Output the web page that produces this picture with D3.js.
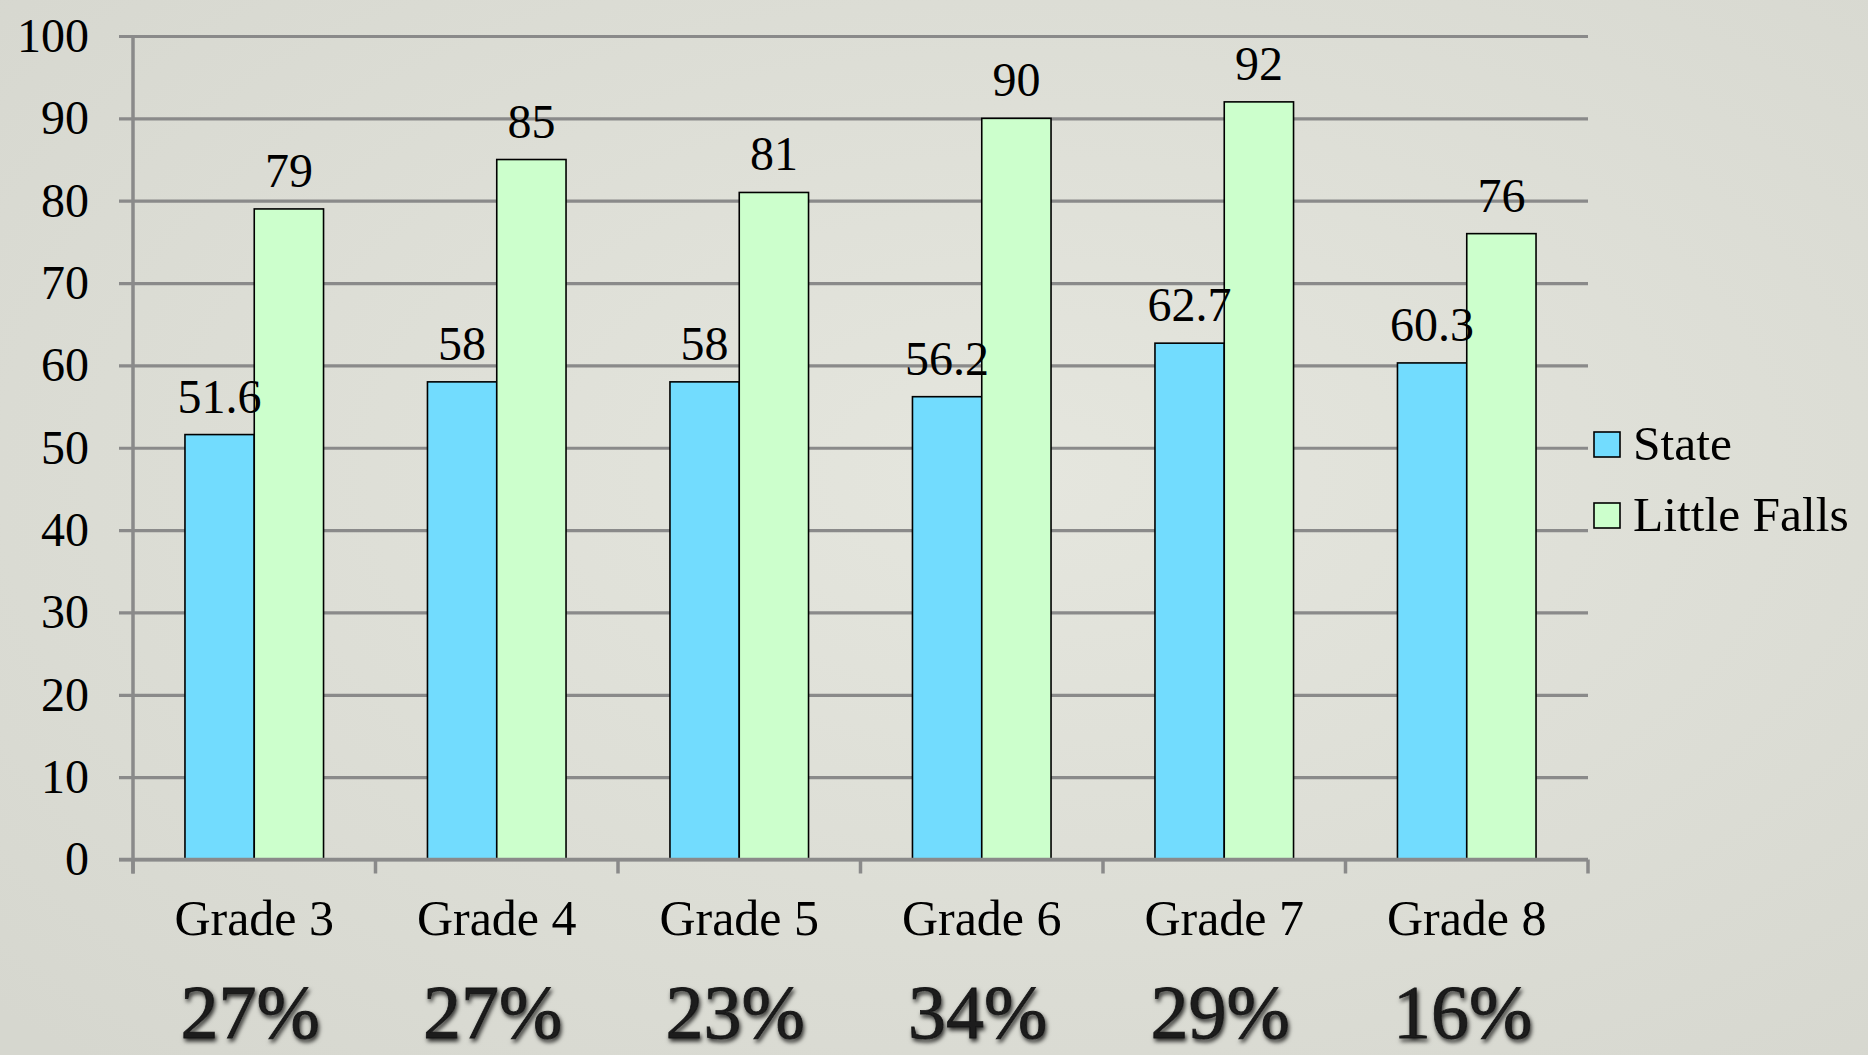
<!DOCTYPE html>
<html>
<head>
<meta charset="utf-8">
<script src="https://cdn.jsdelivr.net/npm/d3@7"></script>
<style>
  html, body { margin: 0; padding: 0; }
  body { width: 1868px; height: 1055px; overflow: hidden; }
  svg { display: block; }
</style>
</head>
<body>
<svg id="chart" width="1868" height="1055"></svg>
<script>
const categories = ["Grade 3", "Grade 4", "Grade 5", "Grade 6", "Grade 7", "Grade 8"];
const seriesNames = ["State", "Little Falls"];
const stateValues = [51.6, 58, 58, 56.2, 62.7, 60.3];
const littleFallsValues = [79, 85, 81, 90, 92, 76];
const stateLabels = ["51.6", "58", "58", "56.2", "62.7", "60.3"];
const littleFallsLabels = ["79", "85", "81", "90", "92", "76"];
const percentLabels = ["27%", "27%", "23%", "34%", "29%", "16%"];
const yTicks = [0, 10, 20, 30, 40, 50, 60, 70, 80, 90, 100];
const colors = ["#72dcfe", "#ccffcc"];

(function () {
const svg = d3.select("#chart");
const FONT = "'Liberation Serif', 'Times New Roman', serif";

const defs = svg.append("defs");
const bg = defs.append("radialGradient").attr("id", "bg").attr("cx", "55%").attr("cy", "45%").attr("r", "75%");
bg.append("stop").attr("offset", "0%").attr("stop-color", "#e5e6de");
bg.append("stop").attr("offset", "100%").attr("stop-color", "#d6d7cf");
const shadow = defs.append("filter").attr("id", "shadow").attr("x", "-20%").attr("y", "-20%").attr("width", "140%").attr("height", "140%");
shadow.append("feDropShadow").attr("dx", 1.5).attr("dy", 3).attr("stdDeviation", 2)
  .attr("flood-color", "#000").attr("flood-opacity", 0.8);

svg.append("rect").attr("width", 1868).attr("height", 1055).attr("fill", "url(#bg)");

const pLeft = 133, pRight = 1588, pTop = 36, pBottom = 859.5;
const x = d3.scaleBand().domain(categories).range([pLeft, pRight]).padding(0);
const xs = d3.scaleBand().domain(seriesNames).range([0, x.bandwidth()]).paddingInner(0).paddingOuter(0.75);
const y = d3.scaleLinear().domain([0, 100]).range([pBottom, pTop]);

const yAxis = d3.axisLeft(y).tickValues(yTicks).tickSize(-(pRight - 119)).tickPadding(30);
const gy = svg.append("g").attr("transform", `translate(119,0)`).call(yAxis);
gy.select(".domain").remove();
gy.selectAll(".tick line").attr("stroke", "#8a8a8a").attr("stroke-width", 3.2);
gy.selectAll(".tick text").attr("font-family", FONT).attr("font-size", 48).attr("fill", "#000");

svg.append("line").attr("x1", pLeft).attr("x2", pLeft).attr("y1", pTop - 1).attr("y2", pBottom + 14)
  .attr("stroke", "#8a8a8a").attr("stroke-width", 3.5);

const data = categories.map((c, i) => ({ c, vals: [stateValues[i], littleFallsValues[i]], labs: [stateLabels[i], littleFallsLabels[i]] }));
const groups = svg.append("g").selectAll("g").data(data).join("g")
  .attr("transform", d => `translate(${x(d.c)},0)`);
groups.selectAll("rect").data(d => d.vals.map((v, j) => ({ v, s: seriesNames[j], j })))
  .join("rect")
  .attr("x", d => xs(d.s)).attr("width", xs.bandwidth())
  .attr("y", d => y(d.v)).attr("height", d => y(0) - y(d.v))
  .attr("fill", d => colors[d.j]).attr("stroke", "#000").attr("stroke-width", 1.6);

svg.append("line").attr("x1", 119).attr("x2", pRight).attr("y1", pBottom).attr("y2", pBottom)
  .attr("stroke", "#8a8a8a").attr("stroke-width", 3.5);
const boundaries = categories.map(c => x(c)).concat([x(categories[categories.length - 1]) + x.bandwidth()]);
svg.append("g").selectAll("line").data(boundaries).join("line")
  .attr("x1", d => d).attr("x2", d => d).attr("y1", pBottom).attr("y2", pBottom + 14)
  .attr("stroke", "#8a8a8a").attr("stroke-width", 3.5);

const xAxis = d3.axisBottom(x).tickSize(0).tickPadding(0);
const gx = svg.append("g").attr("transform", `translate(0,${pBottom})`).call(xAxis);
gx.select(".domain").remove();
gx.selectAll(".tick text").attr("font-family", FONT).attr("font-size", 50).attr("fill", "#000")
  .attr("dy", null).attr("y", 75);

groups.selectAll("text.val").data(d => d.labs.map((t, j) => ({ t, v: d.vals[j], s: seriesNames[j] })))
  .join("text").attr("class", "val")
  .attr("x", d => xs(d.s) + xs.bandwidth() / 2)
  .attr("y", d => y(d.v) - 22)
  .attr("text-anchor", "middle")
  .attr("font-family", FONT).attr("font-size", 48).attr("fill", "#000")
  .text(d => d.t);

svg.append("g").selectAll("text").data(categories).join("text")
  .attr("x", c => x(c) + x.bandwidth() / 2 - 4)
  .attr("y", 1038)
  .attr("text-anchor", "middle")
  .attr("font-family", FONT).attr("font-size", 76).attr("fill", "#1a1a1a")
  .attr("stroke", "#1a1a1a").attr("stroke-width", 0.8)
  .attr("filter", "url(#shadow)")
  .text((c, i) => percentLabels[i]);

const legend = svg.append("g").selectAll("g").data(seriesNames).join("g")
  .attr("transform", (d, i) => `translate(1594,${432 + i * 71})`);
legend.append("rect").attr("width", 26).attr("height", 25)
  .attr("fill", (d, i) => colors[i]).attr("stroke", "#000").attr("stroke-width", 1.6);
legend.append("text").attr("x", 39).attr("y", 28)
  .attr("font-family", FONT).attr("font-size", 49.5).attr("fill", "#000")
  .text(d => d);
})();
</script>
</body>
</html>
